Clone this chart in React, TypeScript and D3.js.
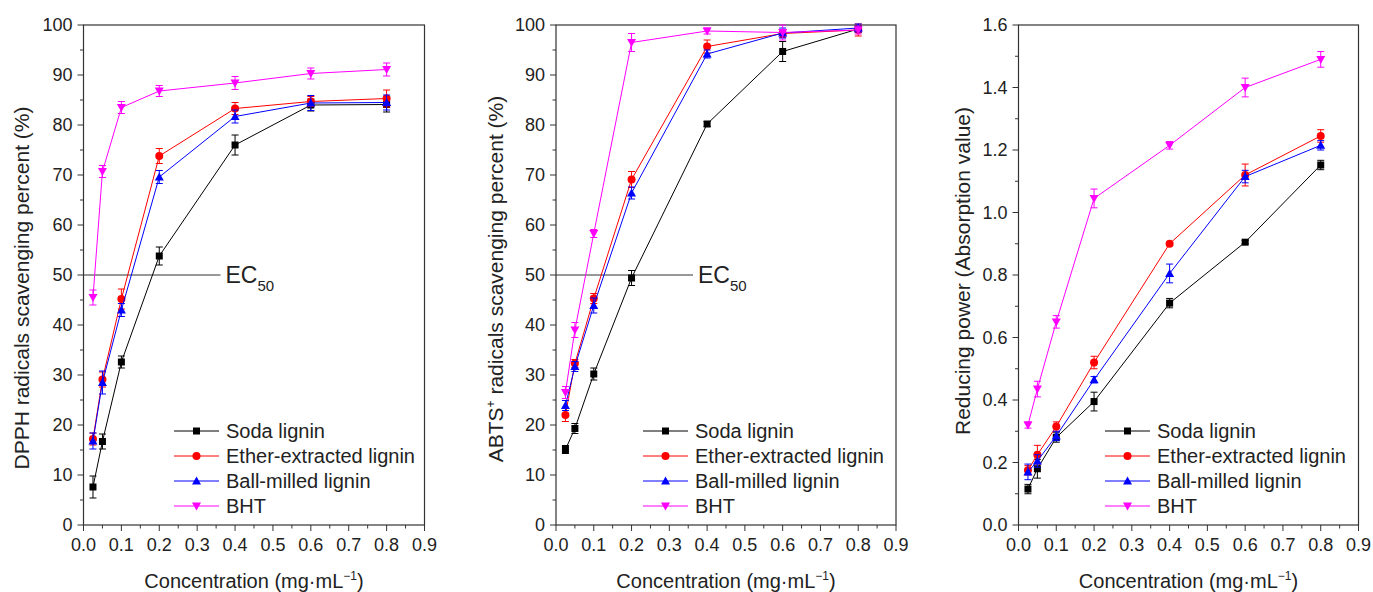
import React from "react";
import * as d3 from "d3";

const conc = [0.025, 0.05, 0.1, 0.2, 0.4, 0.6, 0.8];
const seriesNames = ["Soda lignin", "Ether-extracted lignin", "Ball-milled lignin", "BHT"];
const seriesColors = ["#000000", "#ff0000", "#0000ff", "#ff00ff"];
const xTicks = [0, 0.1, 0.2, 0.3, 0.4, 0.5, 0.6, 0.7, 0.8, 0.9];

// DPPH panel
const dpphSoda = [7.6, 16.7, 32.6, 53.8, 76.0, 84.0, 84.1];
const dpphEther = [17.2, 29.1, 45.2, 73.8, 83.3, 84.7, 85.3];
const dpphBall = [16.8, 28.5, 43.0, 69.6, 81.7, 84.4, 84.5];
const dpphBHT = [45.5, 70.7, 83.5, 86.8, 88.4, 90.3, 91.1];
const dpphSodaErr = [2.2, 1.5, 1.2, 1.8, 2.0, 1.2, 1.5];
const dpphEtherErr = [1.2, 1.5, 2.0, 1.5, 1.2, 1.0, 1.7];
const dpphBallErr = [1.6, 2.3, 1.3, 1.3, 1.3, 1.5, 1.5];
const dpphBHTErr = [1.5, 1.2, 1.2, 1.1, 1.3, 1.1, 1.3];

// ABTS panel
const abtsSoda = [15.1, 19.3, 30.2, 49.4, 80.2, 94.7, 99.2];
const abtsEther = [22.0, 32.3, 45.3, 69.1, 95.7, 98.3, 99.0];
const abtsBall = [23.9, 31.7, 43.9, 66.4, 94.2, 98.4, 99.4];
const abtsBHT = [26.5, 39.0, 58.3, 96.5, 98.8, 98.5, 99.0];
const abtsSodaErr = [0.8, 1.0, 1.2, 1.5, 0.5, 2.0, 0.6];
const abtsEtherErr = [1.3, 0.8, 1.0, 1.6, 1.3, 0.8, 1.2];
const abtsBallErr = [1.0, 1.0, 1.5, 1.2, 0.8, 1.0, 0.8];
const abtsBHTErr = [1.2, 1.5, 0.8, 1.8, 0.6, 1.5, 0.8];

// Reducing power panel
const redSoda = [0.115, 0.18, 0.28, 0.395, 0.71, 0.905, 1.152];
const redEther = [0.175, 0.225, 0.315, 0.52, 0.9, 1.12, 1.245];
const redBall = [0.17, 0.205, 0.285, 0.465, 0.805, 1.115, 1.215];
const redBHT = [0.32, 0.435, 0.65, 1.045, 1.215, 1.4, 1.49];
const redSodaErr = [0.015, 0.03, 0.015, 0.03, 0.015, 0.005, 0.015];
const redEtherErr = [0.015, 0.03, 0.015, 0.02, 0.005, 0.035, 0.02];
const redBallErr = [0.025, 0.02, 0.015, 0.01, 0.03, 0.02, 0.015];
const redBHTErr = [0.01, 0.025, 0.02, 0.03, 0.012, 0.03, 0.025];

const FONT = "'Liberation Sans', Arial, sans-serif";

const Marker = ({ i, x, y, color }) => {
  if (i === 0) return <rect x={x - 3.5} y={y - 3.5} width={7} height={7} fill={color} />;
  if (i === 1) return <circle cx={x} cy={y} r={4} fill={color} />;
  if (i === 2) return <path d={`M${x},${y - 4.5}L${x + 4.5},${y + 3.5}L${x - 4.5},${y + 3.5}Z`} fill={color} />;
  return <path d={`M${x},${y + 4.5}L${x + 4.5},${y - 3.5}L${x - 4.5},${y - 3.5}Z`} fill={color} />;
};

const Panel = ({ left, right, yMax, yStep, yFmt, values, errors, ylabel, labelX, labelY, ec50, legendX }) => {
  const top = 25;
  const bottom = 525;
  const x = d3.scaleLinear().domain([0, 0.9]).range([left, right]);
  const y = d3.scaleLinear().domain([0, yMax]).range([bottom, top]);
  const yTicks = d3.range(0, yMax + yStep / 2, yStep);
  const yMinor = d3.range(yStep / 2, yMax, yStep);
  const xMinor = d3.range(0.05, 0.9, 0.1);
  const line = d3.line<number>().x((_, k) => x(conc[k])).y((d) => y(d));
  const midX = (left + right) / 2;
  return (
    <g fontFamily={FONT} fill="#222">
      <rect x={left} y={top} width={right - left} height={bottom - top} fill="none" stroke="#333" strokeWidth={1.2} />
      {xTicks.map((t) => (
        <g key={t}>
          <line x1={x(t)} x2={x(t)} y1={bottom} y2={bottom + 6} stroke="#333" />
          <text x={x(t)} y={551} textAnchor="middle" fontSize={18}>{t.toFixed(1)}</text>
        </g>
      ))}
      {xMinor.map((t) => (
        <line key={t} x1={x(t)} x2={x(t)} y1={bottom} y2={bottom + 3.5} stroke="#333" />
      ))}
      {yTicks.map((t) => (
        <g key={t}>
          <line x1={left} x2={left - 6} y1={y(t)} y2={y(t)} stroke="#333" />
          <text x={left - 11} y={y(t)} dy="0.35em" textAnchor="end" fontSize={18}>{yFmt(t)}</text>
        </g>
      ))}
      {yMinor.map((t) => (
        <line key={t} x1={left} x2={left - 3.5} y1={y(t)} y2={y(t)} stroke="#333" />
      ))}
      <text x={midX} y={588} textAnchor="middle" fontSize={20}>
        Concentration (mg·mL<tspan dy={-8} fontSize={12}>−1</tspan><tspan dy={8}>)</tspan>
      </text>
      <text transform={`translate(${labelX},${labelY}) rotate(-90)`} textAnchor="middle" fontSize={21}>
        {ylabel}
      </text>
      {ec50 && (
        <g>
          <line x1={left} x2={left + 137} y1={y(50)} y2={y(50)} stroke="#333" strokeWidth={1.2} />
          <text x={left + 142} y={y(50) + 8} fontSize={23}>
            EC<tspan dy={8} fontSize={15}>50</tspan>
          </text>
        </g>
      )}
      {values.map((vals, i) => (
        <g key={i}>
          <path d={line(vals) || ""} fill="none" stroke={seriesColors[i]} strokeWidth={1} />
          {vals.map((v, k) => {
            const cx = x(conc[k]);
            const e = errors[i][k];
            return (
              <g key={k} stroke={seriesColors[i]} strokeWidth={1}>
                <line x1={cx} x2={cx} y1={y(v - e)} y2={y(v + e)} />
                <line x1={cx - 3.5} x2={cx + 3.5} y1={y(v + e)} y2={y(v + e)} />
                <line x1={cx - 3.5} x2={cx + 3.5} y1={y(v - e)} y2={y(v - e)} />
              </g>
            );
          })}
          {vals.map((v, k) => (
            <Marker key={k} i={i} x={x(conc[k])} y={y(v)} color={seriesColors[i]} />
          ))}
        </g>
      ))}
      {seriesNames.map((n, i) => {
        const ly = 431 + i * 25;
        return (
          <g key={n}>
            <line x1={legendX} x2={legendX + 45} y1={ly} y2={ly} stroke={seriesColors[i]} strokeWidth={1} />
            <Marker i={i} x={legendX + 22.5} y={ly} color={seriesColors[i]} />
            <text x={legendX + 52} y={ly} dy="0.36em" fontSize={20}>{n}</text>
          </g>
        );
      })}
    </g>
  );
};

export default function App() {
  const pct = (t) => String(t);
  const dec = (t) => t.toFixed(1);
  return (
    <svg width={1373} height={592} style={{ display: "block", position: "absolute", left: 0, top: 0 }}>
      <rect width={1373} height={592} fill="#fff" />
      <Panel
        left={83.5}
        right={424.5}
        yMax={100}
        yStep={10}
        yFmt={pct}
        values={[dpphSoda, dpphEther, dpphBall, dpphBHT]}
        errors={[dpphSodaErr, dpphEtherErr, dpphBallErr, dpphBHTErr]}
        ylabel="DPPH radicals scavenging percent (%)"
        labelX={29}
        labelY={288}
        ec50
        legendX={174}
      />
      <Panel
        left={556}
        right={896}
        yMax={100}
        yStep={10}
        yFmt={pct}
        values={[abtsSoda, abtsEther, abtsBall, abtsBHT]}
        errors={[abtsSodaErr, abtsEtherErr, abtsBallErr, abtsBHTErr]}
        ylabel={<>ABTS<tspan dy={-8} fontSize={12}>+</tspan><tspan dy={8}> radicals scavenging percent (%)</tspan></>}
        labelX={503}
        labelY={279}
        ec50
        legendX={643}
      />
      <Panel
        left={1018.5}
        right={1358.5}
        yMax={1.6}
        yStep={0.2}
        yFmt={dec}
        values={[redSoda, redEther, redBall, redBHT]}
        errors={[redSodaErr, redEtherErr, redBallErr, redBHTErr]}
        ylabel="Reducing power (Absorption value)"
        labelX={970}
        labelY={271}
        ec50={false}
        legendX={1105}
      />
    </svg>
  );
}
